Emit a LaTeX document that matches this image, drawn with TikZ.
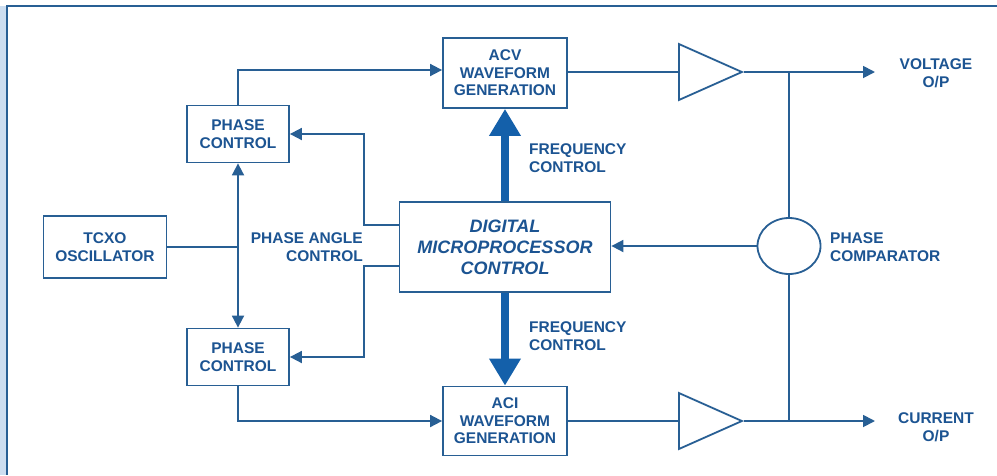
\documentclass[tikz,border=0pt]{standalone}
\usepackage{fontspec}
\setmainfont{Liberation Sans}
\usepackage{tikz}
\usetikzlibrary{calc,arrows.meta,shapes.geometric}
\definecolor{LineBlue}{RGB}{40,95,148}
\definecolor{TextBlue}{RGB}{28,84,146}
\definecolor{FatBlue}{RGB}{20,96,170}
\definecolor{EdgeBlue}{RGB}{205,222,240}

\begin{document}
\begin{tikzpicture}[
x=1pt, y=-1pt,
Blk/.style={rectangle, draw=LineBlue, line width=1.8pt, fill=white, text=TextBlue,
align=center, inner sep=0pt, font=\fontsize{15.5}{17.5}\selectfont\bfseries},
Amp/.style={isosceles triangle, isosceles triangle stretches, draw=LineBlue,
line width=1.8pt, inner sep=0pt, minimum width=56pt, minimum height=63pt,
anchor=lower side},
Lbl/.style={text=TextBlue, inner sep=0pt, font=\fontsize{15.5}{17.5}\selectfont\bfseries},
Wire/.style={draw=LineBlue, line width=1.8pt},
Feed/.style={Wire, -{Triangle[length=12pt,width=12pt]}},
Fat/.style={draw=FatBlue, line width=8pt, -{Triangle[length=27pt,width=30pt]}},
]
	% page and frame
	\useasboundingbox (0,0) rectangle (997,475);
	\fill[white] (0,0) rectangle (997,475);
	\fill[EdgeBlue] (0,6) rectangle (6,475);
	\draw[LineBlue, line width=2.2pt] (997,6) -- (7,6) -- (7,475);

	\node[Blk, minimum width=211pt, minimum height=90pt,
	font=\fontsize{18}{21}\selectfont\bfseries\itshape] (DMC)
	at (505,247)
	{DIGITAL\\MICROPROCESSOR\\CONTROL};
	\node[Blk, minimum width=124pt, minimum height=70pt] (ACV)
	at ($ (DMC) + (0,-174) $)
	{ACV\\WAVEFORM\\GENERATION};
	\node[Blk, minimum width=124pt, minimum height=69pt] (ACI)
	at ($ (DMC) + (0,174) $)
	{ACI\\WAVEFORM\\GENERATION};
	\node[Blk, minimum width=102pt, minimum height=57pt] (PCu)
	at (238,134)
	{PHASE\\CONTROL};
	\node[Blk, minimum width=102pt, minimum height=57pt] (PCl)
	at ($ (PCu) + (0,223) $)
	{PHASE\\CONTROL};
	\node[Blk, minimum width=123pt, minimum height=62pt] (TCXO)
	at (105,247)
	{TCXO\\OSCILLATOR};

	\node[Amp] (AmpV) at (678,72) {};
	\node[Amp] (AmpI) at (678,421) {};
	\node[ellipse, draw=LineBlue, line width=1.8pt, minimum width=63pt,
	minimum height=56pt, inner sep=0pt] (Cmp)
	at (789,246) {};

	\coordinate (JV) at (789,72);
	\coordinate (JI) at (789,421);
	\coordinate (OutV) at (875,72);
	\coordinate (OutI) at (875,421);

	% labels
	\node[Lbl, align=center] (VoltLbl) at (936,73) {VOLTAGE\\O/P};
	\node[Lbl, align=center] (CurLbl) at (936,427) {CURRENT\\O/P};
	\node[Lbl, align=left, anchor=west] (CmpLbl) at (830,247) {PHASE\\COMPARATOR};
	\node[Lbl, align=left, anchor=west] (FreqUp) at (529,158) {FREQUENCY\\CONTROL};
	\node[Lbl, align=left, anchor=west] (FreqDn) at (529,336) {FREQUENCY\\CONTROL};
	\node[Lbl, align=right, anchor=east] (AngLbl) at (363,247) {PHASE ANGLE\\CONTROL};

	% connections
	\draw[Fat] (DMC.north) -- (ACV.south);
	\draw[Fat] (DMC.south) -- (ACI.north);
	\draw[Feed] (PCu.north) |- ($ (ACV.west) + (0,-3) $);
	\draw[Feed] (PCl.south) |- (ACI.west);
	\draw[Wire, {Triangle[length=12pt,width=12pt]}-{Triangle[length=12pt,width=12pt]}]
	(PCu.south) -- (PCl.north);
	\draw[Wire] (TCXO.east) -- (TCXO.east -| PCu.south);
	\draw[Feed] ([yshift=22pt]DMC.west) -- ++(-35,0) |- (PCu.east);
	\draw[Feed] ([yshift=-19pt]DMC.west) -- ++(-35,0) |- (PCl.east);
	\draw[Wire] (ACV.east |- AmpV.lower side) -- (AmpV.lower side);
	\draw[Wire] (ACI.east) -- (AmpI.lower side);
	\draw[Feed] (AmpV.apex) -- (OutV);
	\draw[Feed] (AmpI.apex) -- (OutI);
	\draw[Wire] (JV) -- (Cmp.north);
	\draw[Wire] (Cmp.south) -- (JI);
	\draw[Feed] (Cmp.west) -- (Cmp.west -| DMC.east);
\end{tikzpicture}
\end{document}
